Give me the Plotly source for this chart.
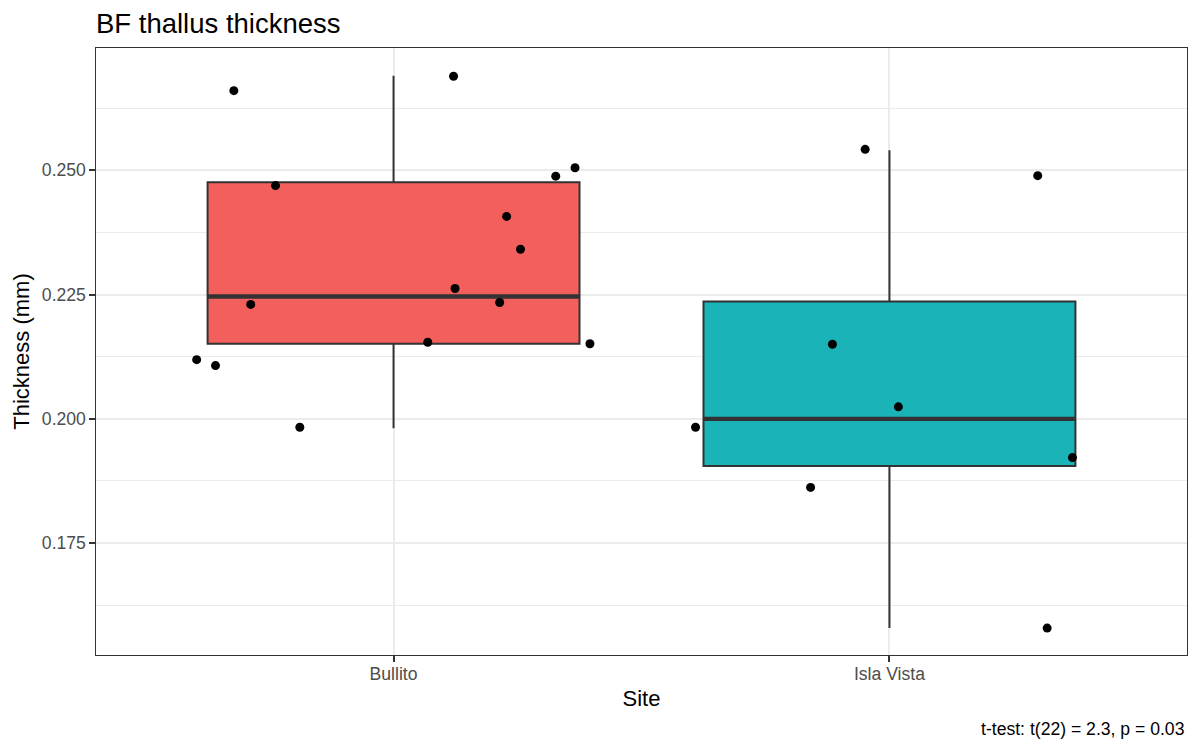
import plotly.graph_objects as go

# sites on the x axis
sites = ["Bullito", "Isla Vista"]
site_pos = [1, 2]
box_colors = ["#F35F5C", "#19B3B8"]

# jittered points (x offset from the site centre, thickness in mm)
bullito_jitter = [-0.322, 0.121, -0.238, 0.327, 0.366, 0.228, 0.256, 0.124,
                  0.214, -0.288, 0.069, 0.396, -0.397, -0.359, -0.189]
bullito_thick = [0.2660, 0.2689, 0.2469, 0.2488, 0.2505, 0.2407, 0.2341, 0.2262,
                 0.2234, 0.2230, 0.2154, 0.2151, 0.2119, 0.2107, 0.1983]

iv_jitter = [-0.049, 0.299, -0.115, 0.018, -0.391, 0.369, -0.159, 0.318]
iv_thick = [0.2542, 0.2489, 0.2150, 0.2024, 0.1983, 0.1922, 0.1862, 0.1579]

# box summaries per site
box_lower = [0.1981, 0.1579]
box_q1 = [0.2151, 0.1905]
box_median = [0.2246, 0.2000]
box_q3 = [0.2476, 0.2236]
box_upper = [0.2690, 0.2540]

box_width = 0.75

y_ticks = [0.175, 0.200, 0.225, 0.250]
y_minor = [0.1625, 0.1875, 0.2125, 0.2375, 0.2625]

# the page body has an 8px margin, so the figure is drawn 8px smaller
W, H = 1192, 742

fig = go.Figure()

for i in range(len(sites)):
    fig.add_trace(go.Box(
        x=[site_pos[i]],
        lowerfence=[box_lower[i]],
        q1=[box_q1[i]],
        median=[box_median[i]],
        q3=[box_q3[i]],
        upperfence=[box_upper[i]],
        width=box_width,
        whiskerwidth=0,
        boxpoints=False,
        fillcolor=box_colors[i],
        line=dict(color="#333333", width=2),
        name=sites[i],
        hoverinfo="skip",
    ))

# thicker median line, like ggplot's fatten = 2
for i in range(len(sites)):
    fig.add_trace(go.Scatter(
        x=[site_pos[i] - box_width / 2, site_pos[i] + box_width / 2],
        y=[box_median[i], box_median[i]],
        mode="lines",
        line=dict(color="#333333", width=4.3),
        hoverinfo="skip",
    ))

fig.add_trace(go.Scatter(
    x=[site_pos[0] + d for d in bullito_jitter] + [site_pos[1] + d for d in iv_jitter],
    y=bullito_thick + iv_thick,
    mode="markers",
    marker=dict(color="black", size=9),
    hoverinfo="skip",
))

fig.update_layout(
    width=W,
    height=H,
    margin=dict(l=87, r=12, t=40, b=95),
    plot_bgcolor="white",
    paper_bgcolor="white",
    showlegend=False,
    font=dict(family="Liberation Sans, Arial, sans-serif", color="black"),
    title=dict(
        text="BF thallus thickness",
        font=dict(size=27.5, color="black"),
        xref="paper", x=0, xanchor="left",
        yref="container", y=1 - 15 / H, yanchor="middle",
    ),
    boxmode="overlay",
)

fig.update_xaxes(
    range=[0.4, 2.6],
    tickmode="array",
    tickvals=site_pos,
    ticktext=sites,
    tickfont=dict(size=17.6, color="#4D4D4D"),
    ticks="outside", ticklen=5.5, tickwidth=2, tickcolor="#333333",
    ticklabelstandoff=-3,
    showgrid=True, gridcolor="#EBEBEB", gridwidth=2,
    zeroline=False,
    showline=True, linecolor="#333333", linewidth=1.2, mirror=True,
    title=dict(text="Site", font=dict(size=22, color="black"), standoff=7),
)

fig.update_yaxes(
    range=[0.15249, 0.27458],
    tickmode="array",
    tickvals=y_ticks,
    tickformat=".3f",
    tickfont=dict(size=17.6, color="#4D4D4D"),
    ticks="outside", ticklen=5.5, tickwidth=2, tickcolor="#333333",
    showgrid=True, gridcolor="#EBEBEB", gridwidth=2,
    minor=dict(tickvals=y_minor, showgrid=True, gridcolor="#EBEBEB",
               gridwidth=1, ticks=""),
    zeroline=False,
    showline=True, linecolor="#333333", linewidth=1.2, mirror=True,
    title=dict(text="Thickness (mm)", font=dict(size=22, color="black"), standoff=6),
)

fig.add_annotation(
    text="t-test: t(22) = 2.3, p = 0.03",
    xref="paper", x=1, xanchor="right",
    yref="paper", y=-(729 - 655) / 607, yanchor="middle",
    showarrow=False,
    font=dict(size=17.6, color="black"),
)

fig.write_html("out.html")
